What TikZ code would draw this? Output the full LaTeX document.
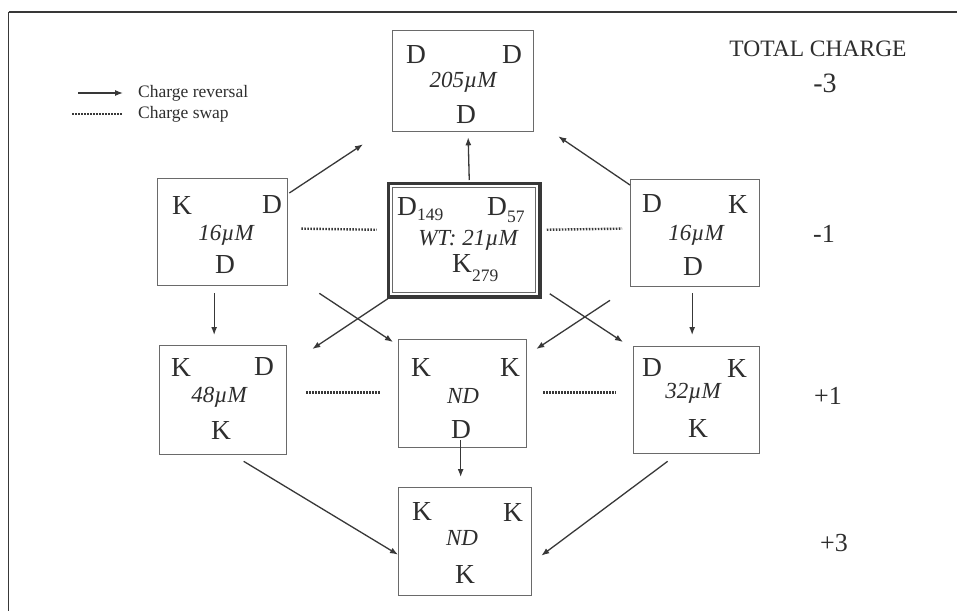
\documentclass[tikz,border=0pt]{standalone}
\usepackage{fontspec}
\setmainfont{Liberation Serif}
\usetikzlibrary{calc,arrows.meta}
\definecolor{txt}{HTML}{2E2E2E}
\definecolor{boxc}{HTML}{6A6A6A}
\definecolor{arrc}{HTML}{383838}
\newcommand\LetFont{\fontsize{27.5}{27.5}\selectfont}
\newcommand\ValFont{\fontsize{23}{23}\selectfont\itshape}
\newcommand\SubFont{\fontsize{17.5}{17.5}\selectfont}
\newcommand\ChgFont{\fontsize{26}{26}\selectfont}
\newcommand\LegFont{\fontsize{17.5}{17.5}\selectfont}
\begin{document}
\begin{tikzpicture}[x=1pt,y=-1pt,
  cbox/.style={draw=boxc,line width=1.3pt,inner sep=0pt,anchor=north west},
  lt/.style={font=\LetFont,text=txt,inner sep=0pt,anchor=center},
  val/.style={font=\ValFont,text=txt,inner sep=0pt,anchor=center},
  chg/.style={font=\ChgFont,text=txt,inner sep=0pt,anchor=center},
  arr/.style={draw=arrc,line width=1.3pt,-{Latex[length=8pt,width=6pt]}},
  dots/.style={draw=arrc,line width=2.4pt,dash pattern=on 1.6pt off 1.4pt},
  frame/.style={draw=arrc,line width=1.5pt}]
\useasboundingbox (0,0) rectangle (957,610);
\clip (0,0) rectangle (957,610);
\fill[white] (0,0) rectangle (957,610);
% frame
\draw[frame] (8.5,12) -- (1000,12);
\draw[frame] (8.5,12) -- (8.5,700);

% legend
\node[font=\LegFont,text=txt,inner sep=0pt,anchor=west] (legA) at (138,93) {Charge reversal};
\node[font=\LegFont,text=txt,inner sep=0pt,anchor=west] (legB) at (138,114) {Charge swap};
\draw[arr] ($(legA.west)+(-60,0)$) -- ($(legA.west)+(-15,0)$);
\draw[dots] ($(legB.west)+(-66,0)$) -- ($(legB.west)+(-16,0)$);

% total charge
\node[font=\fontsize{23.5}{23.5}\selectfont,text=txt,inner sep=0pt] (tc) at (818,49) {TOTAL CHARGE};
\node[chg,font=\fontsize{28}{28}\selectfont] (c1) at (825,83) {-3};
\node[chg] (c2) at (824,234) {-1};
\node[chg] (c3) at (828,396) {+1};
\node[chg] (c4) at (834,543) {+3};

% boxes
\node[cbox,minimum width=141pt,minimum height=101pt] (top) at (392,30) {};
\node[cbox,minimum width=130pt,minimum height=107pt] (lm) at (157,178) {};
\node[cbox,minimum width=129pt,minimum height=107pt] (rm) at (630,179) {};
\node[cbox,minimum width=127pt,minimum height=109pt] (lb) at (159,345) {};
\node[cbox,minimum width=128pt,minimum height=108pt] (nd) at (398,339) {};
\node[cbox,minimum width=126pt,minimum height=107pt] (rb) at (633,346) {};
\node[cbox,minimum width=133pt,minimum height=108pt] (bot) at (398,487) {};
% center WT box (double border)
\node[draw=arrc,line width=3.5pt,inner sep=0pt,anchor=north west,minimum width=151.5pt,minimum height=113.5pt] (wt) at (386.75,181.75) {};
\draw[boxc,line width=1pt] ($(wt.north west)+(6,6)$) rectangle ($(wt.south east)+(-6,-6)$);

% top box texts
\node[lt] (t1) at (416,55) {D};
\node[lt] (t2) at (512,55) {D};
\node[val] (t3) at (463,82) {205µM};
\node[lt] (t4) at (466,115) {D};
% left middle
\node[lt] (l1) at (182,205) {K};
\node[lt] (l2) at (272,205) {D};
\node[val] (l3) at (226,235) {16µM};
\node[lt] (l4) at (225,265) {D};
% right middle
\node[lt] (r1) at (652,204) {D};
\node[lt] (r2) at (738,204) {K};
\node[val] (r3) at (696,235) {16µM};
\node[lt] (r4) at (693,267) {D};
% center
\node[lt,anchor=base west] (w1) at (397,215) {D\raisebox{-5pt}{\SubFont 149}};
\node[lt,anchor=base west] (w2) at (487,215) {D\raisebox{-7pt}{\SubFont 57}};
\node[val] (w3) at (468,240) {WT: 21µM};
\node[lt,anchor=base west] (w4) at (452,272) {K\raisebox{-9pt}{\SubFont 279}};
% left bottom
\node[lt] (a1) at (181,367) {K};
\node[lt] (a2) at (264,367) {D};
\node[val] (a3) at (219,397) {48µM};
\node[lt] (a4) at (221,430) {K};
% ND middle
\node[lt] (n1) at (421,367) {K};
\node[lt] (n2) at (510,367) {K};
\node[val] (n3) at (463,396) {ND};
\node[lt] (n4) at (461,430) {D};
% right bottom
\node[lt] (b1) at (652,368) {D};
\node[lt] (b2) at (737,368) {K};
\node[val] (b3) at (693,393) {32µM};
\node[lt] (b4) at (698,428) {K};
% bottom
\node[lt] (z1) at (422,511) {K};
\node[lt] (z2) at (513,512) {K};
\node[val] (z3) at (462,538) {ND};
\node[lt] (z4) at (465,574) {K};

% arrows
\draw[arr] ($(lm.north east)+(1,15)$) -- ($(top.south west)+(-29,12)$);
\draw[arr] ($(wt.north)+(5,-1.75)$) -- ($(top.south)+(5,5)$);
\draw[arr] ($(rm.north west)+(0,6)$) -- ($(top.south east)+(24,4)$);
\draw[arr] ($(lm.south)+(-8.5,7)$) -- ($(lb.north)+(-9,-10)$);
\draw[arr] ($(rm.south)+(-3,6)$) -- ($(rb.north)+(-4.5,-11)$);
\draw[arr] ($(wt.south west)+(1,0)$) -- ($(lb.north east)+(25,4)$);
\draw[arr] ($(lm.south east)+(31,7)$) -- ($(nd.north west)+(-5,3)$);
\draw[arr] ($(rm.south west)+(-20,13)$) -- ($(nd.north east)+(9,10)$);
\draw[arr] ($(wt.south east)+(8,-5)$) -- ($(rb.north west)+(-10,-4)$);
\draw[arr] ($(lb.south)+(20.5,6)$) -- ($(bot.west)+(0,13)$);
\draw[arr] ($(rb.south)+(-29,7)$) -- ($(bot.east)+(9,14)$);
\draw[arr] ($(nd.south)+(-2,-8)$) -- ($(bot.north)+(-4.5,-10)$);

% charge swaps
\draw[dots] ($(lm.east)+(13,-3.5)$) -- ($(wt.west)+(-10,-10.5)$);
\draw[dots] ($(wt.east)+(5,-10.5)$) -- ($(rm.west)+(-8,-4.5)$);
\draw[dots] ($(lb.east)+(19,-7.5)$) -- ($(nd.west)+(-18,-1)$);
\draw[dots] ($(nd.east)+(16,-1)$) -- ($(rb.west)+(-17,-7.5)$);
\end{tikzpicture}
\end{document}
